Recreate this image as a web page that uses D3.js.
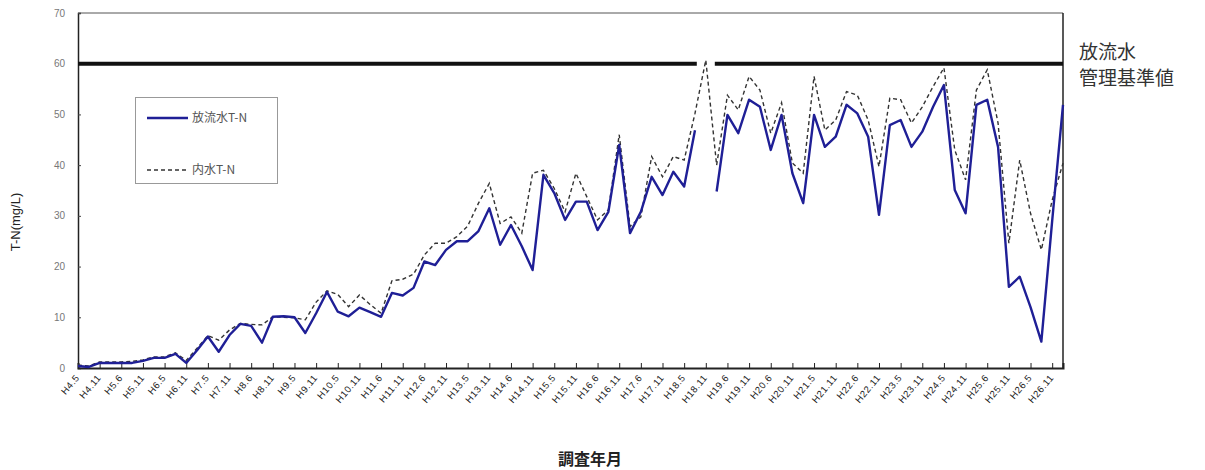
<!DOCTYPE html>
<html>
<head>
<meta charset="utf-8">
<script src="https://cdn.jsdelivr.net/npm/d3@7"></script>
<style>
body{margin:0;background:#fff;}
svg text{font-family:"Liberation Sans","Noto Sans CJK JP",sans-serif;}
.jp{font-family:"Noto Sans CJK JP",sans-serif;}
</style>
</head>
<body>
<svg id="chart" width="1205" height="470"></svg>
<script>
// tick labels shown on every second survey
const tickLabels=["H4.5","H4.11","H5.6","H5.11","H6.5","H6.11","H7.5","H7.11","H8.6","H8.11",
  "H9.5","H9.11","H10.5","H10.11","H11.6","H11.11","H12.6","H12.11","H13.5","H13.11",
  "H14.6","H14.11","H15.5","H15.11","H16.6","H16.11","H17.6","H17.11","H18.5","H18.11",
  "H19.6","H19.11","H20.6","H20.11","H21.5","H21.11","H22.6","H22.11","H23.5","H23.11",
  "H24.5","H24.11","H25.6","H25.11","H26.5","H26.11"];

// 放流水T-N
const discharge=[0.4,0.2,1.0,1.0,1.0,1.0,1.4,2.0,2.0,2.8,
  1.0,3.5,6.2,3.2,6.5,8.7,8.3,5.0,10.1,10.2,
  10.0,6.9,10.8,15.0,11.1,10.2,11.9,11.0,10.1,14.8,
  14.3,15.8,21.0,20.3,23.3,25.0,25.0,27.0,31.5,24.3,
  28.2,24.0,19.3,38.1,34.5,29.2,32.8,32.8,27.2,30.8,
  44.0,26.6,30.8,37.7,34.1,38.7,35.8,46.9,null,34.8,
  49.9,46.3,52.9,51.5,43.0,49.9,38.4,32.5,49.9,43.6,
  45.6,51.9,50.2,45.6,30.2,47.9,48.9,43.6,46.6,51.5,
  55.8,35.1,30.5,51.9,52.9,43.6,16.0,18.0,12.0,5.2,
  29.0,51.9];

// 内水T-N
const inner=[0.6,0.4,1.2,1.2,1.2,1.3,1.6,2.2,2.2,3.0,
  1.5,3.9,6.4,5.5,7.5,8.8,8.6,8.5,10.1,10.0,
  9.9,9.5,13.0,15.2,14.5,12.1,14.4,12.5,10.8,17.2,
  17.5,18.5,22.3,24.6,24.6,25.9,28.0,32.5,36.4,28.5,
  29.8,26.6,38.4,39.0,35.4,30.8,38.4,33.8,29.2,31.2,
  46.0,27.9,29.8,41.7,37.7,41.7,41.0,50.2,60.7,40.0,
  53.8,50.9,57.5,54.8,46.3,52.3,40.4,38.4,57.5,46.9,
  48.9,54.5,53.8,48.9,39.7,53.2,52.9,48.3,51.5,55.5,
  59.2,43.0,37.1,54.8,58.8,48.3,24.6,41.0,30.5,23.3,
  33.1,40.4];

const yTicks=[0,10,20,30,40,50,60,70];
const standard=60;

const svg=d3.select("#chart");
const L=78,R=1063,T=13,B=368;

const x=d3.scalePoint().domain(d3.range(discharge.length)).range([L,R]);
const y=d3.scaleLinear().domain([0,70]).range([B,T]);

// plot frame
svg.append("line").attr("x1",L).attr("x2",R).attr("y1",T).attr("y2",T)
  .attr("stroke","#555").attr("stroke-width",1);
svg.append("line").attr("x1",R).attr("x2",R).attr("y1",T).attr("y2",B)
  .attr("stroke","#222").attr("stroke-width",1.5);

// y axis
const yAxis=svg.append("g").attr("transform",`translate(${L},0)`)
  .call(d3.axisRight(y).tickValues(yTicks).tickSize(3).tickFormat(""));
yAxis.select(".domain").attr("stroke","#222").attr("stroke-width",1.5);
yAxis.selectAll(".tick line").attr("stroke","#444");
svg.append("g").selectAll("text").data(yTicks).join("text")
  .attr("x",L-13).attr("y",d=>y(d)).attr("dy","0.35em")
  .attr("text-anchor","end").attr("font-size",10).attr("fill","#777")
  .text(d=>d);

// x axis
const labelIdx=tickLabels.map((d,i)=>i*2);
const xAxis=svg.append("g").attr("transform",`translate(0,${B})`)
  .call(d3.axisTop(x).tickValues(labelIdx).tickSize(5).tickFormat(""));
xAxis.select(".domain").attr("stroke","#222").attr("stroke-width",2);
xAxis.selectAll(".tick line").attr("stroke","#222");
svg.append("g").selectAll("text").data(tickLabels).join("text")
  .attr("transform",(d,i)=>`translate(${x(i*2)+2},${B+10}) rotate(-50)`)
  .attr("text-anchor","end").attr("font-size",9.5).attr("letter-spacing",0.6)
  .attr("fill","#222").text(d=>d);

// 管理基準値
svg.append("line").attr("x1",L).attr("x2",R).attr("y1",y(standard)).attr("y2",y(standard))
  .attr("stroke","#111").attr("stroke-width",4);
// white gap where the inner peak crosses the standard
const peak=d3.maxIndex(inner);
svg.append("rect").attr("x",x(peak)-9).attr("y",y(standard)-4)
  .attr("width",18).attr("height",8).attr("fill","#fff");

const line=d3.line().defined(d=>d[1]!=null).x(d=>x(d[0])).y(d=>y(d[1]));

svg.append("path").datum(inner.map((v,i)=>[i,v]))
  .attr("d",line).attr("fill","none")
  .attr("stroke","#333").attr("stroke-width",1.4).attr("stroke-dasharray","4,3");

svg.append("path").datum(discharge.map((v,i)=>[i,v]))
  .attr("d",line).attr("fill","none")
  .attr("stroke","#1f1f96").attr("stroke-width",2.4).attr("stroke-linejoin","round");

// legend
const lg=svg.append("g");
lg.append("rect").attr("x",135.5).attr("y",97.5).attr("width",142).attr("height",86)
  .attr("fill","#fff").attr("stroke","#999");
lg.append("line").attr("x1",147).attr("x2",188).attr("y1",118).attr("y2",118)
  .attr("stroke","#1f1f96").attr("stroke-width",2.4);
lg.append("text").attr("x",192).attr("y",118).attr("dy","0.35em").attr("class","jp")
  .attr("font-size",12).attr("fill","#555").text("放流水T-N");
lg.append("line").attr("x1",147).attr("x2",186).attr("y1",170).attr("y2",170)
  .attr("stroke","#333").attr("stroke-width",1.4).attr("stroke-dasharray","4,3");
lg.append("text").attr("x",192).attr("y",170).attr("dy","0.35em").attr("class","jp")
  .attr("font-size",12).attr("fill","#555").text("内水T-N");

// standard label
svg.append("text").attr("x",1079).attr("y",59).attr("class","jp")
  .attr("font-size",19).attr("fill","#333").text("放流水");
svg.append("text").attr("x",1079).attr("y",85).attr("class","jp")
  .attr("font-size",19).attr("fill","#333").text("管理基準値");

// axis titles
svg.append("text").attr("transform","translate(20,222) rotate(-90)")
  .attr("text-anchor","middle").attr("font-size",13).attr("fill","#222").text("T-N(mg/L)");
svg.append("text").attr("x",590).attr("y",465).attr("class","jp")
  .attr("text-anchor","middle").attr("font-size",16).attr("font-weight","bold")
  .attr("fill","#222").text("調査年月");
</script>
</body>
</html>
